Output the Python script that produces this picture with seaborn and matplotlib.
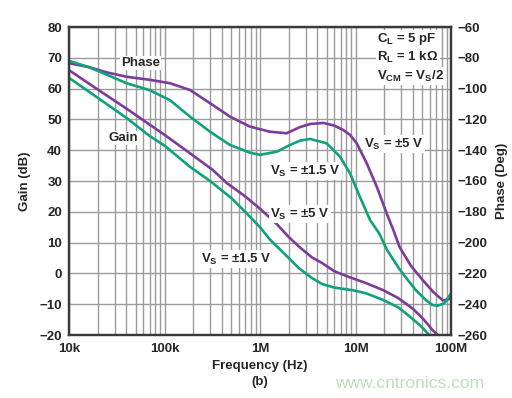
import matplotlib
matplotlib.use("Agg")
import matplotlib.pyplot as plt
import matplotlib.ticker as mticker
import seaborn as sns
import pandas as pd

gain_5v_freq = [1e4, 2e4, 4e4, 7e4, 1e5, 1.85e5, 3.2e5, 4.5e5, 7e5, 1e6, 1.5e6, 2e6, 2.6e6, 3.5e6, 4.5e6,
                6e6, 8.6e6, 10.2e6, 13e6, 19.4e6, 28e6, 40e6, 52e6, 64e6, 73e6]
gain_5v = [66, 59.7, 53.5, 48.3, 45, 39, 33.6, 29.3, 25, 21, 16, 11.8, 8.5, 5.2, 3.3,
           0.7, -1.2, -2, -3.2, -5.4, -8, -11.5, -15, -18.4, -20]

gain_15v_freq = [1e4, 2e4, 4e4, 7e4, 1e5, 1.85e5, 3e5, 5e5, 7.25e5, 1e6, 1.27e6, 2e6, 2.6e6, 3.5e6, 4.5e6,
                 6e6, 9.5e6, 13e6, 19.4e6, 28e6, 37e6, 48e6, 59e6]
gain_15v = [63.5, 57, 50.5, 44.6, 41.5, 34.6, 30, 24.5, 19.5, 15, 11, 5, 1.5, -1.5, -3.5,
            -4.6, -5.5, -6.5, -8.6, -11, -14, -17, -20]

phase_5v_freq = [1e4, 1.6e4, 2.5e4, 4e4, 7e4, 1.14e5, 1.85e5, 3e5, 4.85e5, 7.86e5, 1.27e6, 1.9e6, 2.62e6,
                 3.34e6, 4.6e6, 6e6, 7.45e6, 8.75e6, 10.3e6, 13.1e6, 16.7e6, 21.2e6, 24.9e6, 29e6, 38e6,
                 50e6, 65e6, 82e6, 92e6, 100e6]
phase_5v = [-83.5, -86, -89.5, -92.3, -94.3, -96.5, -100.9, -109.5, -118.2, -124.7, -128, -129, -125,
            -123, -122.3, -124, -126.9, -130, -135.5, -148.5, -163.7, -181, -191.8, -203, -215,
            -224, -232, -237.5, -237, -236]

phase_15v_freq = [1e4, 1.6e4, 2.5e4, 4e4, 7e4, 1.14e5, 1.85e5, 3e5, 4.85e5, 7.86e5, 1e6, 1.5e6, 2e6, 2.62e6,
                  3.34e6, 4.98e6, 6.88e6, 8.75e6, 11.1e6, 14.2e6, 17.7e6, 21.5e6, 28.7e6, 36e6, 43e6,
                  55e6, 64e6, 72e6, 85e6, 100e6]
phase_15v = [-82, -86, -91, -96.5, -101, -107.5, -118.2, -128, -136.6, -141.6, -143, -141, -137, -133.8,
             -132.7, -135.5, -144.2, -155, -170.2, -185.3, -194, -205, -217, -225, -231,
             -237.5, -240.5, -241, -239.5, -233]

x_ticks = [1e4, 1e5, 1e6, 1e7, 1e8]
x_labels = ["10k", "100k", "1M", "10M", "100M"]
gain_ticks = list(range(-20, 81, 10))
phase_ticks = list(range(-260, -59, 20))

purple = "#7d3c98"
green = "#10a27c"

sns.set_style("white")
plt.rcParams["font.family"] = ["Liberation Sans", "DejaVu Sans"]
plt.rcParams["font.weight"] = "bold"
plt.rcParams["mathtext.fontset"] = "custom"
plt.rcParams["mathtext.rm"] = "Liberation Sans:bold"
plt.rcParams["mathtext.it"] = "Liberation Sans:bold"
plt.rcParams["mathtext.bf"] = "Liberation Sans:bold"

fig = plt.figure(figsize=(5.12, 3.98), dpi=100)
ax = fig.add_axes([69 / 512, 1 - 335 / 398, (451 - 69) / 512, (335 - 27) / 398])
ax2 = ax.twinx()

lw = 1.9
for fr, vals, col, a in [(gain_5v_freq, gain_5v, purple, ax), (gain_15v_freq, gain_15v, green, ax),
                         (phase_5v_freq, phase_5v, purple, ax2), (phase_15v_freq, phase_15v, green, ax2)]:
    df = pd.DataFrame({"freq": fr, "val": vals})
    sns.lineplot(data=df, x="freq", y="val", color=col, lw=lw, ax=a, sort=False)

for a in (ax, ax2):
    a.set_xscale("log")
    a.set_xlim(1e4, 1e8)
    a.set_xlabel("")
    a.set_ylabel("")

ax.set_ylim(-20, 80)
ax2.set_ylim(-260, -60)
ax.set_yticks(gain_ticks)
ax2.set_yticks(phase_ticks)
ax.set_xticks(x_ticks)
ax.set_xticklabels(x_labels)
ax.xaxis.set_minor_locator(mticker.LogLocator(base=10, subs=range(2, 10)))
ax.xaxis.set_minor_formatter(mticker.NullFormatter())

ax.grid(True, which="major", axis="both", color="#9c9c9c", lw=1.0)
ax.grid(True, which="minor", axis="x", color="#9c9c9c", lw=1.0)
ax2.grid(False)
ax.set_axisbelow(True)

ax.tick_params(axis="both", which="both", length=0, labelsize=9.5)
ax.tick_params(axis="y", pad=5)
ax.tick_params(axis="x", pad=6)
ax2.tick_params(axis="y", length=0, labelsize=9.5, pad=5)
for a in (ax, ax2):
    for s in a.spines.values():
        s.set_color("#3a3a3a")
        s.set_linewidth(1.6)

ax.set_ylabel("Gain (dB)", fontsize=9.5, fontweight="bold", labelpad=6)
ax2.set_ylabel("Phase (Deg)", fontsize=9.5, fontweight="bold", labelpad=6)
ax.set_xlabel("Frequency (Hz)", fontsize=9.5, fontweight="bold", labelpad=3)

box = dict(facecolor="white", edgecolor="none", pad=1.0)


def put(x, y, s, ha="center"):
    fig.text(x / 512, 1 - y / 398, s, fontsize=9.5, fontweight="bold", ha=ha, va="center",
             bbox=box, zorder=5)


put(140.5, 63, "Phase")
put(123, 138, "Gain")
put(394, 144, r"V$_{\rm S}$ = ±5 V")
put(305, 171, r"V$_{\rm S}$ = ±1.5 V")
put(300, 214, r"V$_{\rm S}$ = ±5 V")
put(236, 259, r"V$_{\rm S}$ = ±1.5 V")
put(377, 39, r"C$_{\rm L}$ = 5 pF", ha="left")
put(377, 57.5, r"R$_{\rm L}$ = 1 kΩ", ha="left")
put(377, 76, r"V$_{\rm CM}$ = V$_{\rm S}$/2", ha="left")

fig.text(260 / 512, 1 - 382 / 398, "(b)", fontsize=9.5, fontweight="bold", ha="center", va="center")
fig.text(410 / 512, 1 - 383.5 / 398, "www.cntronics.com", fontsize=12.5, fontweight="normal",
         color="#b9e3b4", ha="center", va="center")

fig.savefig("out.png", dpi=100)
